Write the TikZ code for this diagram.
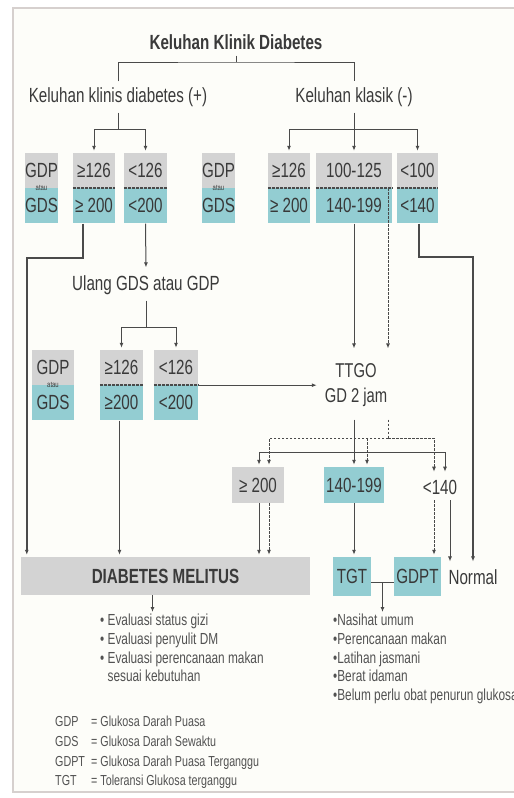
\documentclass[tikz,border=0pt]{standalone}
\usepackage{fontspec}
\setmainfont{Liberation Sans}[FakeStretch=0.74]
\usetikzlibrary{positioning,arrows.meta,calc}
\definecolor{boxgray}{HTML}{D3D3D3}
\definecolor{boxteal}{HTML}{93CDD2}
\definecolor{linegray}{HTML}{4A4A4A}
\definecolor{txtgray}{HTML}{3A3A3A}
\definecolor{framegray}{HTML}{D6D0CE}
\definecolor{paper}{HTML}{FDFDF9}
\tikzset{
	lbl/.style={text=txtgray, font=\fontsize{20.5}{24}\selectfont, inner sep=2pt, outer sep=4pt},
	titlelbl/.style={lbl, font=\fontsize{20.5}{24}\selectfont\bfseries},
	hipart/.style={fill=boxgray, text=txtgray, font=\fontsize{20.5}{24}\selectfont, minimum height=35pt, inner sep=0pt},
	lopart/.style={hipart, fill=boxteal, text=black!78},
	atau/.style={font=\fontsize{8}{8}\selectfont, text=txtgray, inner sep=0pt},
	splitline/.style={line width=1.8pt, draw=linegray, dash pattern=on 3pt off 1pt},
	conn/.style={draw=linegray, line width=1pt},
	heavy/.style={conn, line width=1.8pt},
	arr/.style={-{Latex[length=5pt,width=4pt]}, shorten >=2pt},
	dline/.style={dash pattern=on 2.5pt off 1.5pt},
	listtxt/.style={text=black!68, font=\fontsize{16}{18.7}\selectfont, inner sep=0pt, align=left},
}
\begin{document}
\begin{tikzpicture}[x=1pt,y=-1pt]
	\useasboundingbox (0,0) rectangle (514,798);
	\fill[white] (0,0) rectangle (514,798);
	\draw[framegray, line width=1.5pt, fill=paper] (13,8) rectangle (540,792);

	% heading
	\node[titlelbl] (kkd) at (236,42) {Keluhan Klinik Diabetes};
	\node[lbl] (kpos) at (118,97) {Keluhan klinis diabetes (+)};
	\node[lbl] (kneg) at (354,97) {Keluhan klasik (-)};
	\coordinate (topbar) at (236,62);
	\coordinate (lbar) at (117,129);
	\draw[conn] (kkd.south) -- (topbar);
	\draw[conn] (kpos.north) |- (topbar) -| (kneg.north);

	% first test row
	\node[hipart, minimum width=33pt] (L1t) at (41.5,170.5) {GDP};
	\node[lopart, minimum width=33pt, below=0pt of L1t] (L1b) {GDS};
	\node[atau] (L1a) at (L1t.south) {atau};
	\node[hipart, minimum width=42pt] (A1t) at (94,170.5) {≥126};
	\node[lopart, minimum width=42pt, below=0pt of A1t] (A1b) {≥ 200};
	\node[hipart, minimum width=43pt] (B1t) at (145.5,170.5) {<126};
	\node[lopart, minimum width=43pt, below=0pt of B1t] (B1b) {<200};
	\node[hipart, minimum width=33pt] (L2t) at (218.5,170.5) {GDP};
	\node[lopart, minimum width=33pt, below=0pt of L2t] (L2b) {GDS};
	\node[atau] (L2a) at (L2t.south) {atau};
	\node[hipart, minimum width=42pt] (C1t) at (289,170.5) {≥126};
	\node[lopart, minimum width=42pt, below=0pt of C1t] (C1b) {≥ 200};
	\node[hipart, minimum width=76pt] (D1t) at (354,170.5) {100-125};
	\node[lopart, minimum width=76pt, below=0pt of D1t] (D1b) {140-199};
	\node[hipart, minimum width=41pt] (E1t) at (417.5,170.5) {<100};
	\node[lopart, minimum width=41pt, below=0pt of E1t] (E1b) {<140};
	\draw[splitline] (A1b.north west) -- (A1b.north east);
	\draw[splitline] (B1b.north west) -- (B1b.north east);
	\draw[splitline] (C1b.north west) -- (C1b.north east);
	\draw[splitline] (D1b.north west) -- (D1b.north east);
	\draw[splitline] (E1b.north west) -- (E1b.north east);

	\draw[conn] (kpos.south) -- (kpos.south |- lbar);
	\draw[conn,arr] (kpos.south |- lbar) -| (A1t.north);
	\draw[conn,arr] (kpos.south |- lbar) -| (B1t.north);
	\draw[conn,arr] (kneg.south) -- (kneg.south |- D1t.north);
	\draw[conn,arr] (kneg.south |- lbar) -| (C1t.north);
	\draw[conn,arr] (kneg.south |- lbar) -| (E1t.north);

	% repeat test
	\node[lbl] (ulang) at (146,285) {Ulang GDS atau GDP};
	\coordinate (ubar) at (147,327);
	\node[hipart, minimum width=42pt] (L3t) at (53,367.5) {GDP};
	\node[lopart, minimum width=42pt, below=0pt of L3t] (L3b) {GDS};
	\node[atau] (L3a) at (L3t.south) {atau};
	\node[hipart, minimum width=43pt] (A2t) at (121.5,367.5) {≥126};
	\node[lopart, minimum width=43pt, below=0pt of A2t] (A2b) {≥200};
	\node[hipart, minimum width=44pt] (B2t) at (176,367.5) {<126};
	\node[lopart, minimum width=44pt, below=0pt of B2t] (B2b) {<200};
	\draw[splitline] (A2b.north west) -- (A2b.north east);
	\draw[splitline] (B2b.north west) -- (B2b.north east);
	\draw[conn,arr] (B1b.south) -- (ulang.north);
	\draw[conn] (ulang.south) -- (ulang.south |- ubar);
	\draw[conn,arr] (ulang.south |- ubar) -| (A2t.north);
	\draw[conn,arr] (ulang.south |- ubar) -| (B2t.north);

	% TTGO
	\node[lbl, align=center, font=\fontsize{20}{25}\selectfont, outer xsep=4pt, outer ysep=11pt] (ttgo) at (356,385) {TTGO\\GD 2 jam};
	\draw[conn,arr] (B2b.north east) -- (B2b.north east -| ttgo.west);
	\draw[conn,arr] (D1b.south) -- (D1b.south |- ttgo.north);
	\draw[conn,dline,arr] ([xshift=34pt]D1b.north) -- ([xshift=34pt]D1b.north |- ttgo.north);

	% TTGO results
	\node[hipart, minimum width=52pt, minimum height=36pt] (G3) at (258,485) {≥ 200};
	\node[lopart, minimum width=60pt, minimum height=36pt] (F3) at (354,485) {140-199};
	\node[lbl] (H3) at (440,487) {<140};
	\coordinate (sbar) at (354,452);
	\coordinate (dbar) at (388,438);
	\draw[conn,arr] (ttgo.south -| F3.north) -- (F3.north);
	\draw[conn,arr] (sbar) -| ([xshift=1pt]G3.north);
	\draw[conn,arr] (sbar) -| ([xshift=5pt]H3.north);
	\draw[conn,dline] (ttgo.south -| dbar) -- (dbar);
	\draw[conn,dline,arr] (dbar) -| ([xshift=11pt]G3.north);
	\draw[conn,dline,arr] (dbar) -| ([xshift=-6pt]H3.north);
	\draw[conn,dline,arr] ([xshift=13pt]F3.north |- dbar) -- ([xshift=13pt]F3.north);

	% outcomes
	\node[fill=boxgray, minimum width=289pt, minimum height=38pt, inner sep=0pt, text=txtgray, font=\fontsize{20.5}{24}\selectfont\bfseries] (dm) at (165.5,576) {DIABETES MELITUS};
	\node[lopart, minimum width=38pt, minimum height=39pt] (tgt) at (352,576.5) {TGT};
	\node[lopart, minimum width=47pt, minimum height=39pt] (gdpt) at (417.5,576.5) {GDPT};
	\node[lbl] (normal) at (473,577) {Normal};
	\draw[heavy,arr] ([xshift=-11pt]A1b.south) -- ++(0,34) -| ([xshift=6pt]dm.north west);
	\draw[conn,arr] ([xshift=-2pt]A2b.south) -- ([xshift=-2pt]A2b.south |- dm.north);
	\draw[heavy,arr] ([xshift=1.5pt]E1b.south) -- ++(0,33) -| (normal.north);
	\draw[conn,arr] ([xshift=1pt]G3.south) -- ([xshift=1pt]G3.south |- dm.north);
	\draw[conn,dline,arr] ([xshift=11pt]G3.south) -- ([xshift=11pt]G3.south |- dm.north);
	\draw[conn,arr] (F3.south) -- (F3.south |- tgt.north);
	\draw[conn,dline,arr] ([xshift=-6pt]H3.south) -- ([xshift=-6pt]H3.south |- gdpt.north);
	\draw[conn,arr] ([xshift=10pt]H3.south) -- ([xshift=10pt]H3.south |- normal.north);

	% advice lists
	\node[listtxt, anchor=north west] (dmlist) at (100,614) {\textbullet\ Evaluasi status gizi\\\textbullet\ Evaluasi penyulit DM\\\textbullet\ Evaluasi perencanaan makan\\\phantom{\textbullet\ }sesuai kebutuhan};
	\node[listtxt, anchor=north west] (rlist) at (333,614) {\textbullet Nasihat umum\\\textbullet Perencanaan makan\\\textbullet Latihan jasmani\\\textbullet Berat idaman\\\textbullet Belum perlu obat penurun glukosa};
	\coordinate (tgmid) at ($(tgt.east)!.5!(gdpt.west)+(0,6)$);
	\draw[conn] ([yshift=-6pt]tgt.east) -- ([yshift=-6pt]gdpt.west);
	\draw[conn,arr] (tgmid) -- (tgmid |- rlist.north);
	\draw[conn,arr] ([xshift=-13pt]dm.south) -- ([xshift=-13pt]dm.south |- dmlist.north);

	% legend
	\node[listtxt, font=\fontsize{14.5}{19.6}\selectfont, anchor=north west] (legend) at (55,713) {\begin{tabular}{@{}p{36pt}@{}l@{}}GDP & = Glukosa Darah Puasa\\GDS & = Glukosa Darah Sewaktu\\GDPT & = Glukosa Darah Puasa Terganggu\\TGT & = Toleransi Glukosa terganggu\end{tabular}};
\end{tikzpicture}
\end{document}
